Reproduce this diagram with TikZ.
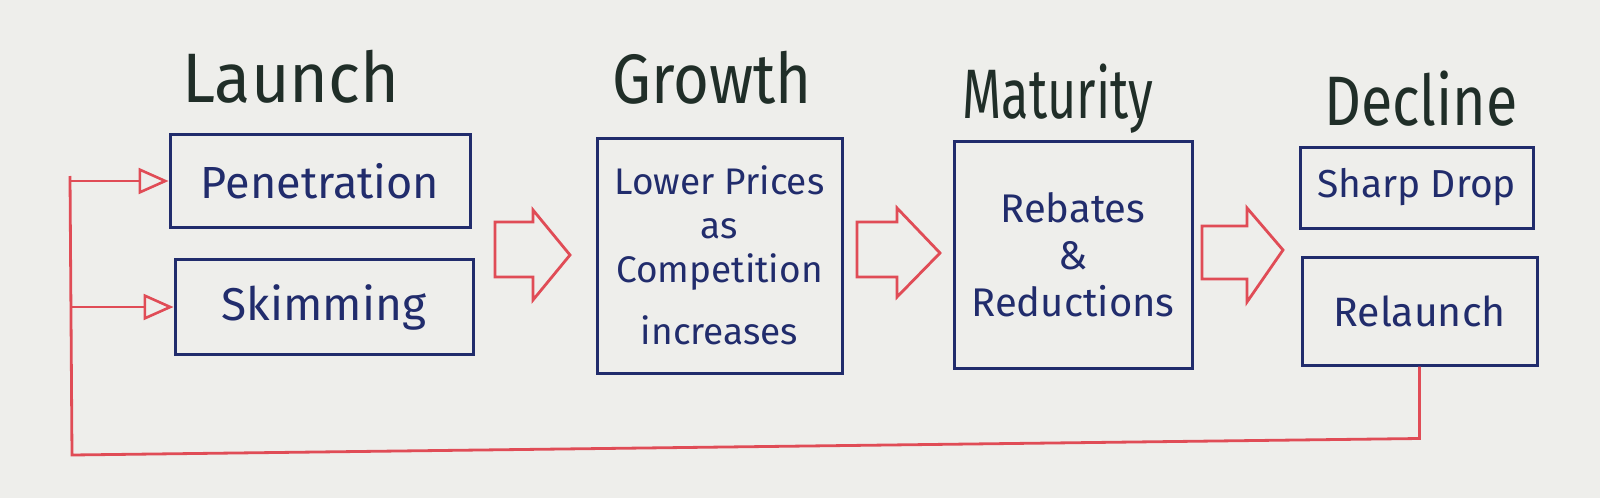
\documentclass[tikz,border=0pt]{standalone}
\usepackage{fontspec}
\setmainfont{Fira Sans}
\usetikzlibrary{arrows.meta}
\definecolor{paper}{RGB}{238,238,235}
\definecolor{ink}{RGB}{33,44,108}
\definecolor{redpen}{RGB}{224,76,86}
\definecolor{headink}{RGB}{32,46,40}
\begin{document}
\begin{tikzpicture}[x=0.5pt,y=-0.5pt,
  stage/.style={draw=ink, line width=1.5pt, inner sep=0pt, align=center, text=ink},
  title/.style={text=headink, anchor=base, font=\fontsize{35}{38}\selectfont, transform shape},
  blockarrow/.style={draw=redpen, line width=1.4pt, line join=miter},
  feed/.style={draw=redpen, line width=1.4pt},
  feedtip/.style={-{Triangle[open, length=15pt, width=13pt, line width=1.3pt]}}]
\fill[paper] (0,0) rectangle (1600,498);
\useasboundingbox (0,0) rectangle (1600,498);

% headings
\node[title, xscale=0.95] (tlaunch) at (291,102) {Launch};
\node[title, xscale=0.88] (tgrowth) at (712,103) {Growth};
\node[title, xscale=0.72] (tmaturity) at (1058,118) {Maturity};
\node[title, xscale=0.82] (tdecline) at (1421,125) {Decline};

% boxes
\node[stage, minimum width=150pt, minimum height=46.5pt, font=\fontsize{22.5}{26}\selectfont] (pen) at (320,181) {Penetration};
\node[stage, minimum width=149pt, minimum height=47.5pt, font=\fontsize{23}{26}\selectfont] (skim) at (324,307) {Skimming};
\node[stage, minimum width=122.5pt, minimum height=117.5pt, font=\fontsize{18.5}{22}\selectfont] (growth) at (719.5,255.5) {Lower Prices\\as\\Competition\\[9pt]increases};
\node[stage, minimum width=119pt, minimum height=113.5pt, font=\fontsize{20}{23.5}\selectfont] (maturity) at (1073,254.5) {Rebates\\\&\\Reductions};
\node[stage, minimum width=116.5pt, minimum height=40.5pt, font=\fontsize{19.5}{22}\selectfont] (sharp) at (1416.5,187.5) {Sharp Drop};
\node[stage, minimum width=117.5pt, minimum height=54pt, font=\fontsize{20.5}{23}\selectfont] (relaunch) at (1419.5,311) {Relaunch};

% block arrows
\draw[blockarrow] (495,222) -- (533,222) -- (533,210) -- (570,255) -- (533,300) -- (533,277) -- (495,277) -- cycle;
\draw[blockarrow] (857,222) -- (897,222) -- (897,208) -- (940,253) -- (897,297) -- (897,277) -- (857,277) -- cycle;
\draw[blockarrow] (1202,226) -- (1247,226) -- (1247,208) -- (1283,250) -- (1247,302) -- (1247,279) -- (1202,279) -- cycle;

% feedback loop
\path (relaunch.south) ++(0,72) coordinate (fbR);
\coordinate (fbL) at (72,455);
\coordinate (fbT) at (70,176);
\draw[feed, line join=miter] (relaunch.south) -- (fbR) -- (fbL) -- (fbT);
\draw[feed, feedtip] (fbT |- pen.west) -- (pen.west);
\draw[feed, feedtip] (fbT |- skim.west) -- (skim.west);
\end{tikzpicture}
\end{document}
